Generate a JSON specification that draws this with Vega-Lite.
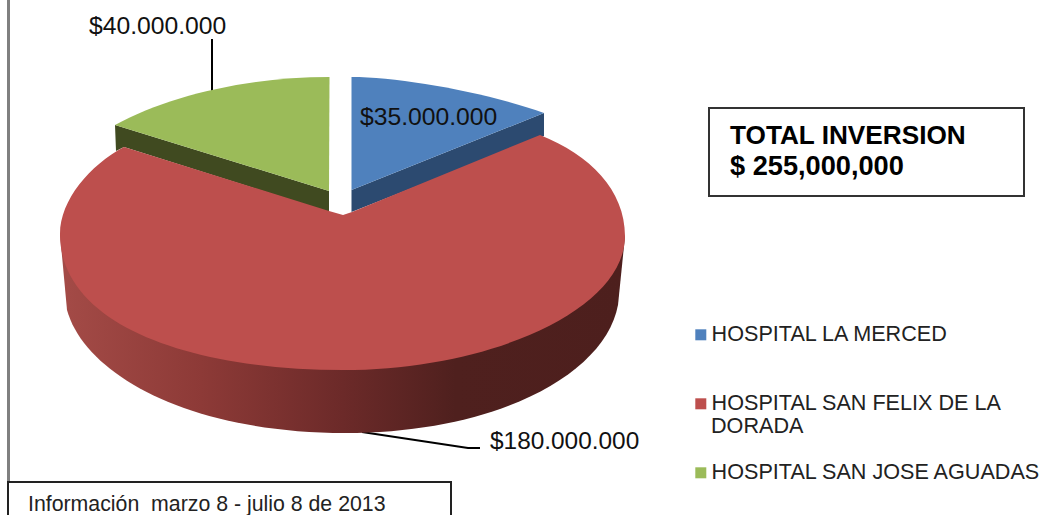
{
"$schema":"https://vega.github.io/schema/vega-lite/v6.json",
"width":1040,"height":514,
"padding":{"left":0,"top":0,"right":1,"bottom":1},
"autosize":{"type":"none"},
"background":"white",
"config":{"view":{"stroke":null},"text":{"font":"Liberation Sans"}},
"datasets":{
"pie":[
{"hospital":"HOSPITAL LA MERCED","slice":"La Merced","value":35000000,"label":"$35.000.000"},
{"hospital":"HOSPITAL SAN FELIX DE LA DORADA","slice":"San Felix","value":180000000,"label":"$180.000.000"},
{"hospital":"HOSPITAL SAN JOSE AGUADAS","slice":"San Jose","value":40000000,"label":"$40.000.000"}
],
"notes":[{"heading":"TOTAL INVERSION","total":"$ 255,000,000","source":"Información \u00a0marzo 8 - julio 8 de 2013","wrapped":"DORADA"}]
},
"data":{"name":"pie"},
"layer":[
{"data":{"name":"notes"},"mark":{"type":"point","shape":"M-511.5,-257 L-511.5,225","size":4,"filled":false,"stroke":"#808080","strokeWidth":3,"opacity":1}},
{"data":{"name":"notes"},"mark":{"type":"point","shape":"M-512,263 L-512,225 L-69,225 L-69,263","size":4,"filled":false,"stroke":"#222222","strokeWidth":2,"opacity":1}},
{"data":{"name":"notes"},"mark":{"type":"point","shape":"M189,-149 L504,-149 L504,-61 L189,-61 Z","size":4,"filled":false,"stroke":"#333333","strokeWidth":2,"opacity":1}},
{"data":{"name":"notes"},"mark":{"type":"point","shape":"M-308,-218 L-308,-165","size":4,"filled":false,"stroke":"#000000","strokeWidth":2,"opacity":1}},
{"data":{"name":"notes"},"mark":{"type":"point","shape":"M-158,175 L-52,191 L-40,191","size":4,"filled":false,"stroke":"#000000","strokeWidth":2,"opacity":1}},
{"transform":[{"filter":"datum.value == 40000000"}],"mark":{"type":"point","shape":"M-405,-132 L-191,-66 L-191,-45 L-396,-110 L-404,-106 Z","size":4,"filled":true,"fill":"#404a20","strokeWidth":0,"opacity":1}},
{"transform":[{"filter":"datum.value == 35000000"}],"mark":{"type":"point","shape":"M-168.5,-67 L24,-144 L24,-121 L-168.5,-45 Z","size":4,"filled":true,"fill":"#2c4a70","strokeWidth":0,"opacity":1}},
{"transform":[{"filter":"datum.value == 180000000"}],"mark":{"type":"point","shape":"M105,-21 L98,48 C85,118 -25,176 -175,176 C-330,176 -435,118 -453,53 L-460,-23 Z","size":4,"filled":true,"strokeWidth":0,"opacity":1,
"fill":{"gradient":"linear","x1":0,"y1":0,"x2":1,"y2":0,"stops":[{"offset":0,"color":"#a44b47"},{"offset":0.25,"color":"#8d3a37"},{"offset":0.5,"color":"#6c2a29"},{"offset":0.7,"color":"#4f201e"},{"offset":1,"color":"#4d1f1d"}]}}},
{"mark":{"type":"point","size":4,"filled":true,"strokeWidth":0,"opacity":1},
"encoding":{
"shape":{"field":"slice","type":"nominal","legend":null,"scale":{"domain":["La Merced","San Felix","San Jose"],"range":[
"M-168.5,-67 L-168.5,-180 C-120,-180 -35,-165 24,-144 Z",
"M20,-122 C70,-102 105,-67 105,-21 C105,53 -30,113 -177,113 C-330,113 -460,68 -460,-23 C-460,-57 -430,-92 -396,-110 L-191,-46 L-177,-42 L-168,-45 Z",
"M-191,-66 L-190.5,-180 C-270,-180 -350,-162 -405,-132 Z"]}},
"color":{"field":"hospital","type":"nominal","title":null,
"scale":{"domain":["HOSPITAL LA MERCED","HOSPITAL SAN FELIX DE LA DORADA","HOSPITAL SAN JOSE AGUADAS"],"range":["#4f81bd","#bd4f4d","#9bbb59"]},
"legend":{"orient":"none","legendX":690,"legendY":324,"symbolType":"square","symbolSize":121,"symbolStrokeWidth":0,"symbolOpacity":1,"labelFont":"Liberation Sans","labelFontSize":21.6,"labelColor":"#222222","labelOffset":0,"labelLimit":400,"rowPadding":46,"padding":0,
"labelExpr":"datum.label == 'HOSPITAL SAN FELIX DE LA DORADA' ? 'HOSPITAL SAN FELIX DE LA' : datum.label"}}
}},
{"data":{"name":"notes"},"mark":{"type":"text","align":"left","baseline":"alphabetic","dx":191,"dy":176,"fontSize":21.6,"fill":"#222222","font":"Liberation Sans"},"encoding":{"text":{"field":"wrapped"}}},
{"transform":[{"filter":"datum.value == 40000000"}],"mark":{"type":"text","align":"left","baseline":"alphabetic","dx":-431,"dy":-223,"fontSize":24.7,"fill":"#111111","font":"Liberation Sans"},"encoding":{"text":{"field":"label"}}},
{"transform":[{"filter":"datum.value == 35000000"}],"mark":{"type":"text","align":"left","baseline":"alphabetic","dx":-160,"dy":-132,"fontSize":24.7,"fill":"#111111","font":"Liberation Sans"},"encoding":{"text":{"field":"label"}}},
{"transform":[{"filter":"datum.value == 180000000"}],"mark":{"type":"text","align":"left","baseline":"alphabetic","dx":-30,"dy":192,"fontSize":24.4,"fill":"#111111","font":"Liberation Sans"},"encoding":{"text":{"field":"label"}}},
{"data":{"name":"notes"},"mark":{"type":"text","align":"left","baseline":"alphabetic","dx":210,"dy":-113,"fontSize":26.2,"fontWeight":"bold","fill":"#000000","font":"Liberation Sans"},"encoding":{"text":{"field":"heading"}}},
{"data":{"name":"notes"},"mark":{"type":"text","align":"left","baseline":"alphabetic","dx":210,"dy":-82,"fontSize":27.2,"fontWeight":"bold","fill":"#000000","font":"Liberation Sans"},"encoding":{"text":{"field":"total"}}},
{"data":{"name":"notes"},"mark":{"type":"text","align":"left","baseline":"alphabetic","dx":-492,"dy":254,"fontSize":21.3,"fill":"#222222","font":"Liberation Sans"},"encoding":{"text":{"field":"source"}}}
]
}
